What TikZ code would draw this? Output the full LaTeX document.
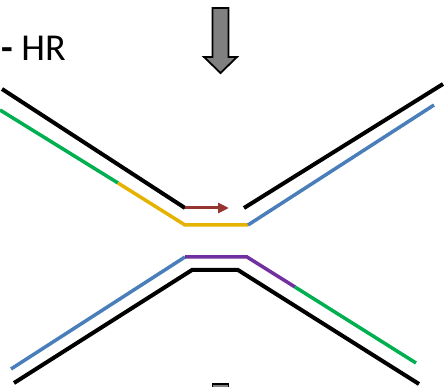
\documentclass[tikz,border=0pt]{standalone}
\usepackage{fontspec}
\setmainfont{Carlito}
\usetikzlibrary{arrows.meta}
\definecolor{strandgreen}{RGB}{0,176,80}
\definecolor{strandyellow}{RGB}{230,178,0}
\definecolor{strandblue}{RGB}{74,126,187}
\definecolor{strandpurple}{RGB}{112,48,160}
\definecolor{extred}{RGB}{150,52,48}
\definecolor{arrowgray}{RGB}{128,128,128}
\begin{document}
\begin{tikzpicture}[x=1pt,y=-1pt,
  blackstrand/.style={line width=4pt,black},
  colstrand/.style={line width=3.5pt,line join=miter},
  blockarrow/.style={fill=arrowgray,draw=black,line width=1.8pt,line join=miter},
  label/.style={font=\fontsize{38}{40}\selectfont,inner sep=0pt,anchor=base west}]
\useasboundingbox (0,0) rectangle (447,387);
\clip (0,0) rectangle (447,387);

% key points of the upper duplex
\coordinate (tl) at (2,89);
\coordinate (tbend) at (185,208);
\coordinate (ttip) at (229,208);
\coordinate (trs) at (244,208);
\coordinate (tre) at (443,84);
\coordinate (gl) at (0,110);
\coordinate (gy) at (118,183);
\coordinate (yl) at (185,225);
\coordinate (yr) at (248,225);
\coordinate (br) at (434,105);

% key points of the lower duplex
\coordinate (bl) at (11,369);
\coordinate (pl) at (185,257);
\coordinate (pr) at (247,257);
\coordinate (pg) at (295,287);
\coordinate (ge) at (416,363);
\coordinate (kl) at (14,383);
\coordinate (kbl) at (192,270);
\coordinate (kbr) at (238,270);
\coordinate (kr) at (419,384);

% upper strands
\draw[blackstrand] (tl) -- (tbend);
\draw[line width=3pt,extred,-{Triangle[length=11pt,width=10pt]}] (tbend) -- (ttip);
\draw[blackstrand] (trs) -- (tre);
\draw[colstrand,strandgreen] (gl) -- (gy);
\draw[colstrand,strandyellow] (gy) -- (yl) -- (yr);
\draw[colstrand,strandblue] (yr) -- (br);

% lower strands
\draw[colstrand,strandblue] (bl) -- (pl);
\draw[colstrand,strandpurple] (pl) -- (pr) -- (pg);
\draw[colstrand,strandgreen] (pg) -- (ge);
\draw[blackstrand,line join=miter] (kl) -- (kbl) -- (kbr) -- (kr);

% block arrows
\draw[blockarrow] (212.5,8) -- (228.5,8) -- (228.5,57) -- (237,57) -- (220.5,73) -- (204,57) -- (212.5,57) -- cycle;
\draw[blockarrow] (212.5,384) -- (228.5,384) -- (228.5,430) -- (212.5,430) -- cycle;

\node[label] (hr) at (1,61) {{\bfseries -} HR};
\end{tikzpicture}
\end{document}
